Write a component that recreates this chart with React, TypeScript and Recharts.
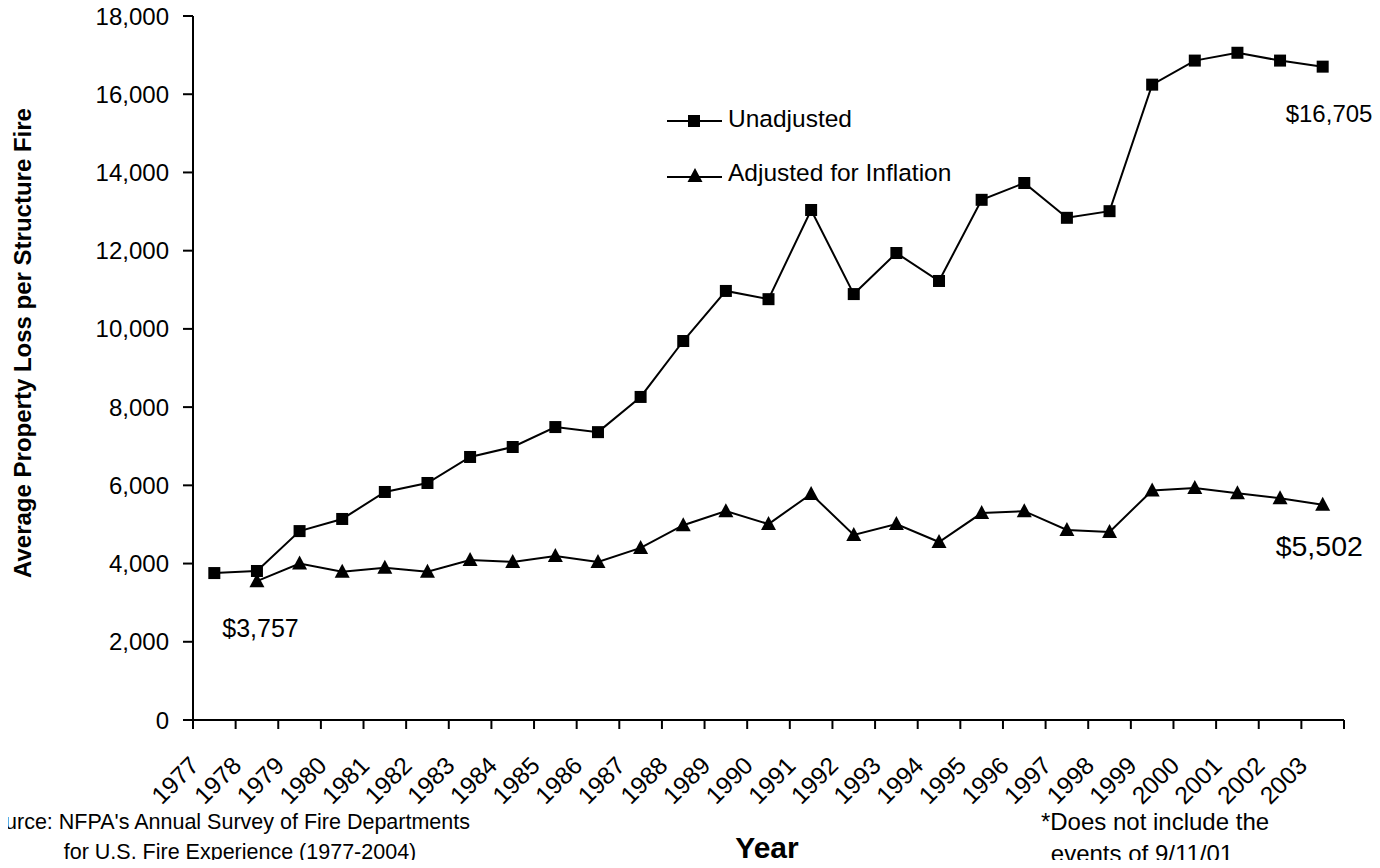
import React from "react";
import { LineChart, Line, XAxis, YAxis, LabelList } from "recharts";

const years = [
  1977, 1978, 1979, 1980, 1981, 1982, 1983, 1984, 1985, 1986, 1987, 1988, 1989, 1990,
  1991, 1992, 1993, 1994, 1995, 1996, 1997, 1998, 1999, 2000, 2001, 2002, 2003,
];

const unadjusted = [
  3757, 3810, 4830, 5140, 5830, 6060, 6725, 6980, 7490, 7360, 8260, 9690, 10970, 10760,
  13040, 10890, 11940, 11225, 13300, 13730, 12840, 13010, 16245, 16860, 17060, 16860, 16705,
];

// no adjusted value for 1977
const adjusted = [
  null, 3550, 4000, 3790, 3890, 3790, 4090, 4040, 4190, 4040, 4400, 4980, 5340, 5010,
  5780, 4730, 5010, 4550, 5290, 5340, 4860, 4810, 5870, 5930, 5800, 5670, 5502,
];

const yTicks = [0, 2000, 4000, 6000, 8000, 10000, 12000, 14000, 16000, 18000];

// tick marks sit between the years
const xBounds = [...years.map((y) => y - 0.5), years[years.length - 1] + 0.5];

const data = years.map((year, i) => ({
  year,
  unadjusted: unadjusted[i],
  adjusted: adjusted[i],
}));

const FONT = "'Liberation Sans', Arial, sans-serif";
const BAND = 1151 / years.length;

const Square = (props: any) => {
  const { cx, cy } = props;
  if (cx == null || cy == null) return null;
  return <rect x={cx - 6} y={cy - 6} width={12} height={12} fill="#000" />;
};

const Triangle = (props: any) => {
  const { cx, cy, value } = props;
  if (cx == null || cy == null || value == null) return null;
  return <polygon points={`${cx},${cy - 8} ${cx - 7.5},${cy + 6} ${cx + 7.5},${cy + 6}`} fill="#000" />;
};

const YearTick = (props: any) => {
  const { x, y, payload } = props;
  const year = payload.value + 0.5;
  if (year > years[years.length - 1]) return null;
  const tx = x + BAND / 2 - 14;
  const ty = y + 36;
  return (
    <text
      x={tx}
      y={ty}
      transform={`rotate(-45, ${tx}, ${ty})`}
      textAnchor="end"
      fontFamily={FONT}
      fontSize={24.5}
      fill="#000"
    >
      {year}
    </text>
  );
};

const YTick = (props: any) => {
  const { x, y, payload } = props;
  return (
    <text x={x - 12} y={y + 8.5} textAnchor="end" fontFamily={FONT} fontSize={24} fill="#000">
      {payload.value.toLocaleString("en-US")}
    </text>
  );
};

const endLabel = (dx: number, dy: number, size: number, which: number[]) => (props: any) => {
  const { x, y, value, index } = props;
  if (!which.includes(index) || value == null) return null;
  return (
    <text x={x + dx} y={y + dy} fontFamily={FONT} fontSize={size} fill="#000">
      {"$" + Number(value).toLocaleString("en-US")}
    </text>
  );
};

// legend, axis title and notes drawn in page coordinates
const Overlay = () => (
  <g fontFamily={FONT} fill="#000">
    <line x1={667} y1={121} x2={722} y2={121} stroke="#000" strokeWidth={2} />
    <rect x={688} y={115} width={12} height={12} fill="#000" />
    <text x={728} y={127} fontSize={24.5}>Unadjusted</text>
    <line x1={667} y1={177} x2={722} y2={177} stroke="#000" strokeWidth={2} />
    <polygon points="695,168 687.5,182 702.5,182" fill="#000" />
    <text x={728} y={181} fontSize={24.5}>Adjusted for Inflation</text>

    <text x={767} y={858} textAnchor="middle" fontSize={30} fontWeight="bold">Year</text>
    <text x={470} y={829} textAnchor="end" fontSize={21.5}>
      Source: NFPA's Annual Survey of Fire Departments
    </text>
    <text x={240} y={859} textAnchor="middle" fontSize={21.5}>
      for U.S. Fire Experience (1977-2004)
    </text>
    <text x={1155} y={830} textAnchor="middle" fontSize={24}>*Does not include the</text>
    <text x={1142} y={862} textAnchor="middle" fontSize={24}>events of 9/11/01</text>
  </g>
);

const YTitle = () => (
  <text
    x={31}
    y={343}
    transform="rotate(-90, 31, 343)"
    textAnchor="middle"
    fontFamily={FONT}
    fontSize={24}
    fontWeight="bold"
    fill="#000"
  >
    Average Property Loss per Structure Fire
  </text>
);

export default function App() {
  return (
    <div style={{ margin: -8, width: 1380, height: 868, background: "#fff", overflow: "hidden" }}>
      <LineChart
        width={1380}
        height={868}
        data={data}
        margin={{ top: 16, right: 36, left: 113, bottom: 88 }}
      >
        <XAxis
          dataKey="year"
          type="number"
          domain={[xBounds[0], xBounds[xBounds.length - 1]]}
          ticks={xBounds}
          interval={0}
          height={60}
          axisLine={{ stroke: "#000", strokeWidth: 2 }}
          tickLine={{ stroke: "#000", strokeWidth: 2 }}
          tickSize={9}
          tick={<YearTick />}
          label={<Overlay />}
        />
        <YAxis
          domain={[0, 18000]}
          ticks={yTicks}
          width={80}
          axisLine={{ stroke: "#000", strokeWidth: 2 }}
          tickLine={{ stroke: "#000", strokeWidth: 2 }}
          tickSize={10}
          tick={<YTick />}
          label={<YTitle />}
        />
        <Line
          dataKey="unadjusted"
          stroke="#000"
          strokeWidth={2}
          dot={<Square />}
          activeDot={false}
          isAnimationActive={false}
        >
          <LabelList content={endLabel(-37, 55, 24, [years.length - 1])} />
        </Line>
        <Line
          dataKey="adjusted"
          stroke="#000"
          strokeWidth={2}
          dot={<Triangle />}
          activeDot={false}
          isAnimationActive={false}
        >
          <LabelList content={endLabel(-47, 51, 28.5, [years.length - 1])} />
        </Line>
        <Line
          dataKey="unadjusted"
          stroke="none"
          dot={false}
          activeDot={false}
          legendType="none"
          isAnimationActive={false}
        >
          <LabelList content={endLabel(8, 64, 25, [0])} />
        </Line>
      </LineChart>
    </div>
  );
}
